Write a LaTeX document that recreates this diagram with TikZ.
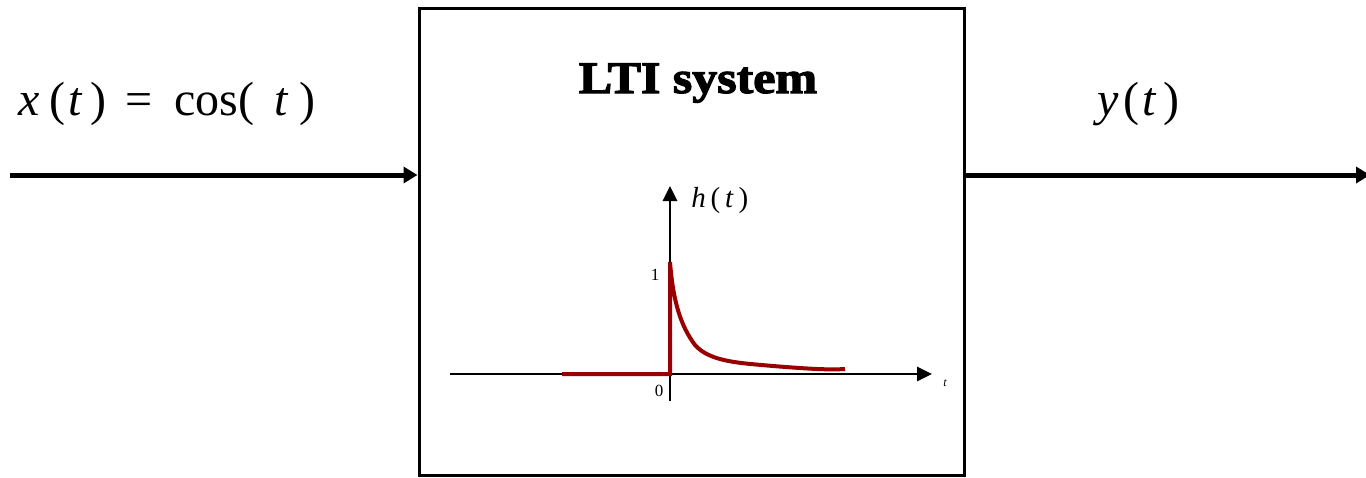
\documentclass[tikz,border=0pt]{standalone}
\usepackage{fontspec}
\setmainfont{Liberation Serif}
\newfontfamily\titlefont[FakeBold=2.5]{Liberation Serif Bold}
\usetikzlibrary{arrows.meta}
\definecolor{darkred}{HTML}{990000}
\begin{document}
\begin{tikzpicture}[x=0.5pt,y=-0.5pt,
  sigarrow/.style={line width=2.5pt,-{Triangle[length=7pt,width=8pt]}},
  axisline/.style={line width=1.4pt,-{Triangle[length=7.5pt,width=7pt]}},
  resp/.style={line width=2pt,darkred},
  bigtxt/.style={font=\fontsize{24}{28}\selectfont,inner sep=0pt}]
\useasboundingbox (0,0) rectangle (1366,477);
% box
\node[draw,line width=1.5pt,minimum width=272.5pt,minimum height=233.5pt,inner sep=0pt] (sys) at (691.5,241.5) {};
\node[font=\fontsize{22.5}{26}\selectfont\titlefont,inner sep=0pt,anchor=base] (title) at (698,93) {\scalebox{1.11}[1]{LTI system}};
% signals
\coordinate (in) at (10,175);
\coordinate (out) at (1370,175);
\draw[sigarrow] (in) -- (in -| sys.west);
\draw[sigarrow] (out -| sys.east) -- (out);
\node[bigtxt,anchor=base west] (xt) at (18,115) {\textit{x}\hspace{5pt}(\hspace{1.5pt}\textit{t}\hspace{4pt})\hspace{9.5pt}=\hspace{10.5pt}cos(\hspace{10pt}\textit{t}\hspace{5.5pt})};
\node[bigtxt,anchor=base west] (yt) at (1097,115) {\textit{y}\hspace{2.5pt}(\hspace{1.5pt}\textit{t}\hspace{3pt})};
% axes
\coordinate (o) at (670,374);
\coordinate (xl) at (450,374);
\coordinate (xr) at (932,374);
\coordinate (yb) at (670,401);
\coordinate (yt2) at (670,186);
\draw[axisline] (xl) -- (xr);
\draw[axisline] (yb) -- (yt2);
\node[font=\fontsize{14.5}{17}\selectfont,inner sep=0pt,anchor=base west] (ht) at (691,207) {\textit{h}\,(\,\textit{t}\,)};
\node[font=\fontsize{8.5}{10}\selectfont,inner sep=0pt,anchor=base] (one) at (655,280) {1};
\node[font=\fontsize{8.5}{10}\selectfont,inner sep=0pt,anchor=base] (zero) at (659,396) {0};
\node[font=\fontsize{6}{7}\selectfont\itshape,inner sep=0pt,anchor=base] (tl) at (945,386) {t};
% response
\draw[resp] (562,374) -- (670,374) -- (670,262)
  .. controls (673,300) and (680,325) .. (695,345)
  .. controls (710,362) and (740,363) .. (773,366)
  .. controls (810,369) and (830,370) .. (845,369);
\end{tikzpicture}
\end{document}
